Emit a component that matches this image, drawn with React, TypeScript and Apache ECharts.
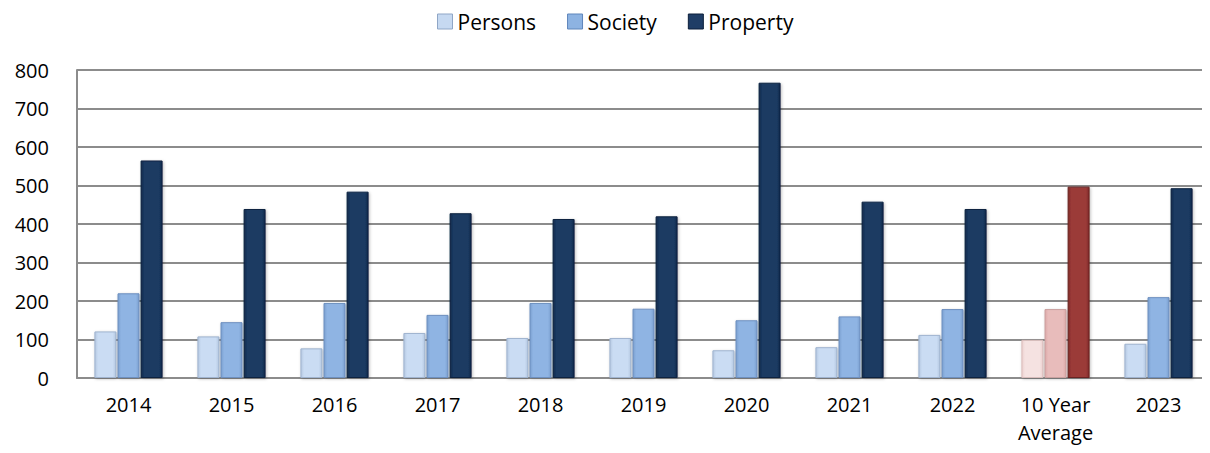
import React, { useEffect, useRef } from "react";
import * as echarts from "echarts";

const categories = ["2014", "2015", "2016", "2017", "2018", "2019", "2020", "2021", "2022", "10 Year\nAverage", "2023"];
const persons = [121, 108, 77, 117, 104, 104, 72, 80, 112, 99, 89];
const society = [220, 145, 195, 164, 195, 180, 150, 160, 179, 179, 210];
const property = [565, 439, 484, 428, 413, 420, 767, 458, 439, 497, 493];
const yTicks = [0, 800, 100];
const highlightIndex = 9;

const FONT = "'Open Sans', 'Noto Sans', sans-serif";

function grad(edge: string, mid: string) {
  return new echarts.graphic.LinearGradient(0, 0, 1, 0, [
    { offset: 0, color: edge },
    { offset: 0.15, color: mid },
    { offset: 0.85, color: mid },
    { offset: 1, color: edge },
  ]);
}

const styles = {
  persons: { main: grad("#b4c7e0", "#cadcf3"), border: "#9fb3cf", legend: "#c6d9f1" },
  society: { main: grad("#7a9fcf", "#8fb4e3"), border: "#6d8fbf", legend: "#8db3e2" },
  property: { main: grad("#12294a", "#1b3a62"), border: "#0f2340", legend: "#1f3d66" },
};
const hl = {
  persons: { main: grad("#ecd0cf", "#f5e2e1"), border: "#d8bcbb" },
  society: { main: grad("#dca8a7", "#e8bcbb"), border: "#c9a09f" },
  property: { main: grad("#7e2a28", "#9b3a38"), border: "#6b2422" },
};

function mkData(vals: number[], key: "persons" | "society" | "property") {
  return vals.map((v, i) =>
    i === highlightIndex
      ? { value: v, itemStyle: { color: hl[key].main, borderColor: hl[key].border } }
      : v
  );
}

export default function App() {
  const ref = useRef<HTMLDivElement>(null);
  useEffect(() => {
    if (!ref.current) return;
    const chart = echarts.init(ref.current, undefined, { renderer: "svg" });
    const mkSeries = (name: string, vals: number[], key: "persons" | "society" | "property") => ({
      name,
      type: "bar",
      data: mkData(vals, key),
      barWidth: 22,
      barGap: "5%",
      itemStyle: {
        color: styles[key].main,
        borderColor: styles[key].border,
        borderWidth: 1,
        shadowColor: "rgba(0,0,0,0.25)",
        shadowBlur: 3,
        shadowOffsetX: 1,
        shadowOffsetY: 1,
      },
    });
    chart.setOption({
      animation: false,
      textStyle: { fontFamily: FONT },
      legend: {
        top: 3,
        left: 429,
        padding: 0,
        icon: "rect",
        itemWidth: 15,
        itemHeight: 15,
        itemGap: 31,
        textStyle: { fontSize: 21, color: "#000", fontFamily: FONT },
        data: [
          { name: "Persons", itemStyle: { color: styles.persons.legend, borderColor: "#8fa6c6", borderWidth: 1 } },
          { name: "Society", itemStyle: { color: styles.society.legend, borderColor: "#5f86bb", borderWidth: 1 } },
          { name: "Property", itemStyle: { color: styles.property.legend, borderColor: "#0c1f3a", borderWidth: 1 } },
        ],
      },
      grid: { left: 69, right: 0, top: 62, bottom: 75, containLabel: false },
      xAxis: {
        type: "category",
        data: categories,
        axisTick: { show: false },
        axisLine: { lineStyle: { color: "#8c8c8c", width: 2 } },
        axisLabel: { color: "#000", fontSize: 20, margin: 12, lineHeight: 28, fontFamily: FONT, interval: 0 },
      },
      yAxis: {
        type: "value",
        min: yTicks[0],
        max: yTicks[1],
        interval: yTicks[2],
        axisLine: { show: true, lineStyle: { color: "#8c8c8c", width: 2 } },
        axisTick: { show: false },
        splitLine: { lineStyle: { color: "#8c8c8c", width: 2 } },
        axisLabel: { color: "#000", fontSize: 20, margin: 28, fontFamily: FONT },
      },
      series: [
        mkSeries("Persons", persons, "persons"),
        mkSeries("Society", society, "society"),
        mkSeries("Property", property, "property"),
      ],
    });
    return () => chart.dispose();
  }, []);
  return <div ref={ref} style={{ width: 1202, height: 445 }} />;
}
